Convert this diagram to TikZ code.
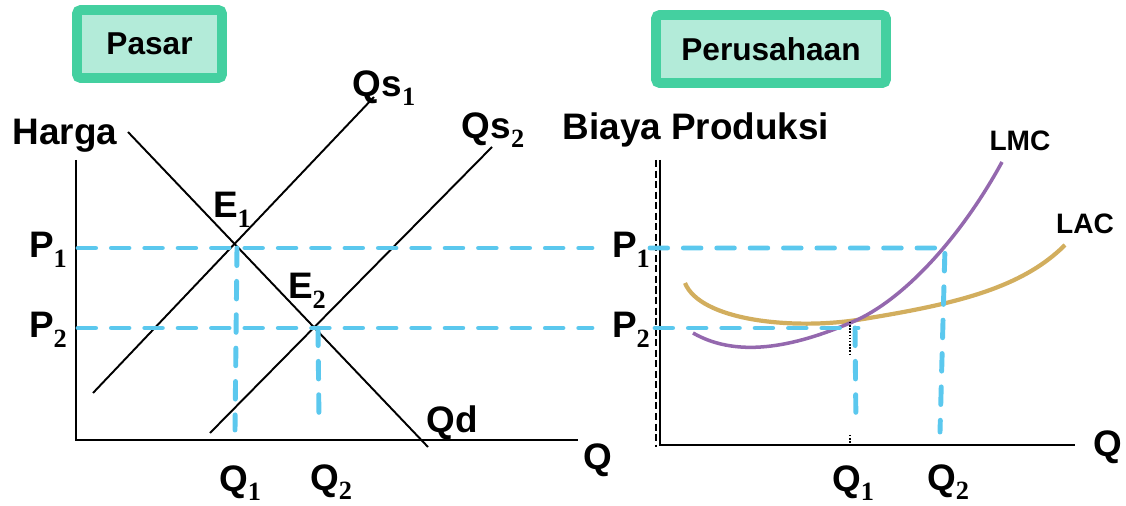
\documentclass[tikz,border=0pt]{standalone}
\usepackage{fontspec}
\setmainfont{Liberation Sans}
\newfontfamily\subfont{Liberation Serif}
\newcommand{\sbs}[1]{\raisebox{-0.26em}{\subfont\fontsize{15}{15}\selectfont #1}}
\definecolor{boxline}{HTML}{44D0A0}
\definecolor{boxfill}{HTML}{B3EBD9}
\definecolor{dashblue}{HTML}{5BC8EE}
\definecolor{lmc}{HTML}{9468AE}
\definecolor{lac}{HTML}{D2AE5E}
\begin{document}
\begin{tikzpicture}[x=0.02cm,y=-0.02cm,
  title/.style={draw=boxline,fill=boxfill,line width=5.5pt,rounded corners=2pt,font=\fontsize{18}{21}\bfseries\selectfont,inner sep=0pt,minimum height=1.36cm},
  lbl/.style={font=\fontsize{21}{24}\bfseries\selectfont,inner sep=0pt},
  slbl/.style={font=\fontsize{16}{19}\bfseries\selectfont,inner sep=0pt},
  axis/.style={line width=1.2pt,black},
  curve/.style={line width=1.1pt,black},
  guide/.style={dashblue,line width=2.8pt,dash pattern=on 10pt off 9pt,line cap=round}]
\useasboundingbox (0,0) rectangle (1126,506);
% titles
\node[title,minimum width=2.9cm] (pasar) at (149.5,44) {Pasar};
\node[title,minimum width=4.6cm] (perus) at (771,49) {Perusahaan};
% ---------- left panel ----------
\coordinate (lo) at (76,440);
\coordinate (ltop) at (76,160);
\coordinate (lend) at (578,440);
\draw[axis] (ltop) -- (lo) -- (lend);
\coordinate (d1) at (128,132); \coordinate (d2) at (428,447);
\coordinate (s1a) at (93,393); \coordinate (s1b) at (374,97);
\coordinate (s2a) at (210,433); \coordinate (s2b) at (492,147);
\draw[curve] (d1) -- (d2);
\draw[curve] (s1a) -- (s1b);
\draw[curve] (s2a) -- (s2b);
\coordinate (e1) at (237,248); \coordinate (e2) at (318,328);
\coordinate (p1l) at (78,248); \coordinate (p1r) at (592,248);
\coordinate (p2l) at (78,328); \coordinate (p2r) at (592,328);
\coordinate (q1b) at (235,430); \coordinate (q2b) at (319,422);
\draw[guide] (p1l) -- (p1r);
\draw[guide] (p2l) -- (p2r);
\draw[guide] (e1) -- (q1b);
\draw[guide] (e2) -- (q2b);
\node[lbl] (harga) at (65,136) {Harga};
\node[lbl] (lP1) at (48,250) {P\sbs{1}};
\node[lbl] (lP2) at (48,330) {P\sbs{2}};
\node[lbl] (E1) at (232,210) {E\sbs{1}};
\node[lbl] (E2) at (307,291) {E\sbs{2}};
\node[lbl] (Qs1) at (384,88) {Qs\sbs{1}};
\node[lbl] (Qs2) at (493,130) {Qs\sbs{2}};
\node[lbl] (Qd) at (452,423) {Qd};
\node[lbl] (lQ) at (598,460) {Q};
\node[lbl] (lQ1) at (240,483) {Q\sbs{1}};
\node[lbl] (lQ2) at (331,482) {Q\sbs{2}};
% ---------- right panel ----------
\coordinate (ro) at (660,445);
\coordinate (rtop) at (660,160);
\coordinate (rend) at (1075,445);
\draw[axis] (rtop) -- (ro) -- (rend);
\draw[black,line width=1.6pt,dash pattern=on 4pt off 2pt] (656,160) -- (656,447);
\coordinate (mn) at (857,320);
\draw[lac,line width=2.4pt] (685,283) .. controls (700,320) and (790,330) .. (mn)
  .. controls (950,305) and (1020,290) .. (1065,245);
\draw[lmc,line width=2pt] (693,333) .. controls (740,360) and (800,345) .. (mn)
  .. controls (910,295) and (965,230) .. (1002,162);
\draw[black,densely dotted,line width=0.8pt] (850,322) -- (850,355);
\draw[black,densely dotted,line width=0.8pt] (850,435) -- (850,447);
\coordinate (rp1l) at (650,248); \coordinate (rp1r) at (945,248);
\coordinate (rp2l) at (655,328); \coordinate (rp2r) at (858,328);
\coordinate (rq1b) at (856,428); \coordinate (rq2b) at (940,432);
\draw[guide] (rp1l) -- (rp1r) -- (rq2b);
\draw[guide] (rp2l) -- (rp2r);
\draw[guide] (855,328) -- (rq1b);
\node[lbl] (biaya) at (696,130) {Biaya Produksi};
\node[lbl] (rP1) at (631,250) {P\sbs{1}};
\node[lbl] (rP2) at (631,330) {P\sbs{2}};
\node[slbl] (LMC) at (1020,141) {LMC};
\node[slbl] (LAC) at (1085,224) {LAC};
\node[lbl] (rQ) at (1108,447) {Q};
\node[lbl] (rQ1) at (853,483) {Q\sbs{1}};
\node[lbl] (rQ2) at (948,482) {Q\sbs{2}};
\end{tikzpicture}
\end{document}
